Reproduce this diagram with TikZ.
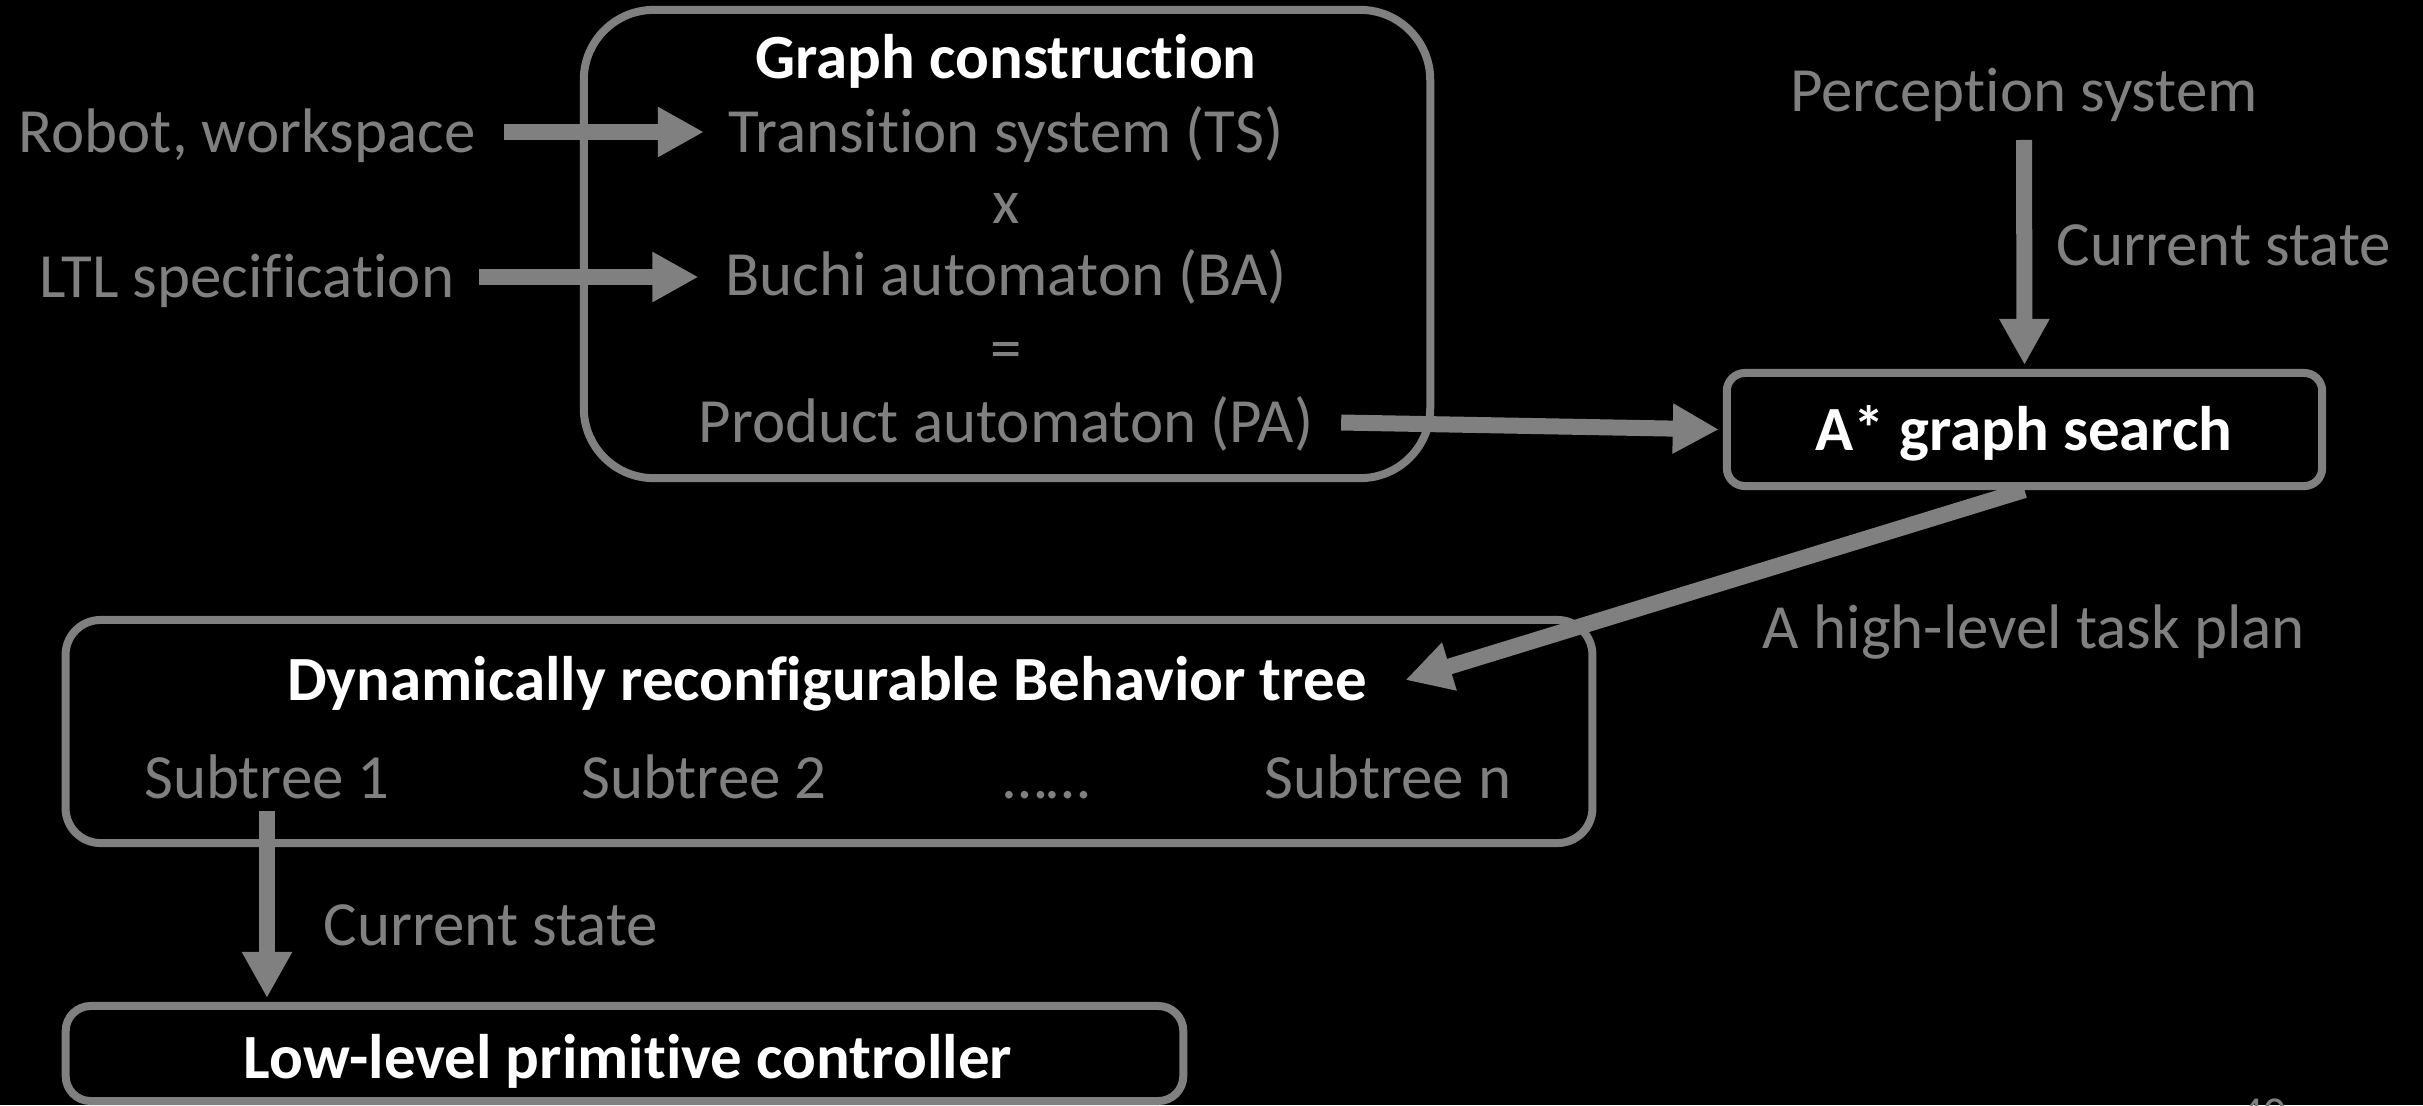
\documentclass[tikz,border=0pt]{standalone}
\usepackage{fontspec}
\setmainfont{Carlito}[Ligatures=NoCommon]
\usetikzlibrary{arrows.meta,calc}
\definecolor{tgray}{RGB}{128,128,128}
\begin{document}
\begin{tikzpicture}[x=0.01cm,y=-0.01cm,
  box/.style={draw=tgray,line width=0.08cm,rectangle,inner sep=0pt},
  lbl/.style={font=\fontsize{17.9pt}{21.5pt}\selectfont,text=tgray,inner sep=0pt,
              text height=0.405cm,text depth=0pt},
  ttl/.style={lbl,text=white,font=\fontsize{17.9pt}{21.5pt}\selectfont\bfseries},
  flow/.style={draw=tgray,line width=0.16cm,-{Triangle[length=0.46cm,width=0.47cm]}}]

\clip (0,0) rectangle (2423,1105);
\fill[black] (0,0) rectangle (2423,1105);

% frames
\node[box,minimum width=8.46cm,minimum height=4.68cm,rounded corners=0.7cm] (gcbox) at (1007,244) {};
\node[box,minimum width=5.95cm,minimum height=1.13cm,rounded corners=0.18cm] (astarbox) at (2024.5,429.5) {};
\node[box,minimum width=15.26cm,minimum height=2.23cm,rounded corners=0.35cm] (btbox) at (829,731.5) {};
\node[box,minimum width=11.17cm,minimum height=0.95cm,rounded corners=0.25cm] (llbox) at (624.5,1053.5) {};

% graph construction
\node[ttl] (gc) at (1006,58) {Graph construction};
\node[lbl] (ts) at (1006,132) {Transition system (TS)};
\node[lbl] (times) at (1006,203) {x};
\node[lbl] (ba) at (1006,275) {Buchi automaton (BA)};
\node[lbl] (eq) at (1006,349) {=};
\node[lbl] (pa) at (1006,422) {Product automaton (PA)};

% inputs
\node[lbl] (rob) at (247,132) {Robot, workspace};
\node[lbl] (ltl) at (247,277) {LTL specification};
\node[lbl] (perc) at (2024,91) {Perception system};
\node[lbl,anchor=west] (cs1) at (2056,245) {Current state};

% search
\node[ttl] (astar) at (2024,430) {A* graph search};
\node[lbl] (plan) at (2034,628) {A high-level task plan};

% behavior tree
\node[ttl] (bt) at (827,680) {Dynamically reconfigurable Behavior tree};
\node[lbl] (st1) at (267,778) {Subtree 1};
\node[lbl] (st2) at (704,778) {Subtree 2};
\node[lbl] (dots) at (1047,778) {……};
\node[lbl] (stn) at (1388,778) {Subtree n};
\node[lbl,anchor=west] (cs2) at (323,925) {Current state};

% controller
\node[ttl] (ll) at (628,1058) {Low-level primitive controller};

% page number, running off the lower edge
\node[anchor=base west,font=\fontsize{13pt}{15pt}\selectfont,text=tgray,inner sep=0pt] (pg) at (2240,1128) {40};

% flows
\draw[flow,shorten <=0.28cm,shorten >=0.24cm] (rob.east) -- (rob.east -| ts.west);
\draw[flow,shorten <=0.24cm,shorten >=0.26cm] (ltl.east) -- (ltl.east -| ba.west);
\draw[flow,shorten <=0.27cm,shorten >=0.04cm] (pa.east) -- (astarbox.west);
\draw[flow,shorten <=0.28cm,shorten >=0.04cm] (perc.south) -- (astarbox.north);
\draw[flow] (astarbox.south) -- ([xshift=0.38cm]bt.east);
\draw[flow,shorten <=0.12cm,shorten >=0.04cm] (st1.south) -- (st1.south |- llbox.north);
\end{tikzpicture}
\end{document}
